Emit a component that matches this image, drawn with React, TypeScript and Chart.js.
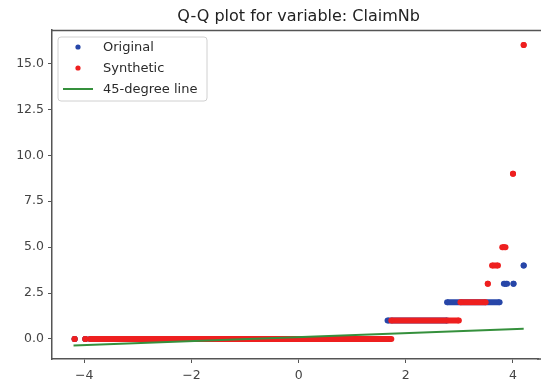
import React, { useEffect, useRef } from "react";
import { Chart, registerables } from "chart.js";

Chart.register(...registerables);

// ---- data ----
const titleText = "Q-Q plot for variable: ClaimNb";
const seriesNames = ["Original", "Synthetic", "45-degree line"];

// Original: runs of sorted sample values vs theoretical quantiles
const origLevels = [0, 0, 0, 1, 2, 3, 3, 4];
const origStart = [-4.18, -3.98, -3.89, 1.66, 2.77, 3.83, 4.01, 4.2];
const origEnd = [-4.18, -3.98, 1.66, 2.77, 3.75, 3.89, 4.01, 4.2];

// Synthetic
const synthLevels = [0, 0, 0, 1, 2, 3, 4, 5, 9, 16];
const synthStart = [-4.18, -3.98, -3.89, 1.73, 3.02, 3.53, 3.61, 3.8, 4.0, 4.2];
const synthEnd = [-4.18, -3.98, 1.73, 2.99, 3.49, 3.53, 3.72, 3.86, 4.0, 4.2];

// 45-degree reference line
const lineX = [-4.2, 4.2];
const lineY = [-0.36, 0.55];

const xTicks = [-4, -2, 0, 2, 4];
const yTicks = [0, 2.5, 5, 7.5, 10, 12.5, 15];

const BLUE = "#2746a8";
const RED = "#ee1f1f";
const GREEN = "#35903c";
const FONT = '"DejaVu Sans", sans-serif';

function runDatasets(levels: number[], starts: number[], ends: number[], color: string, order: number) {
  return levels.map((v, i) => ({
    type: "scatter" as const,
    data: [
      { x: starts[i], y: v },
      { x: ends[i], y: v },
    ],
    showLine: true,
    borderColor: color,
    backgroundColor: color,
    borderWidth: 6,
    borderCapStyle: "butt" as const,
    pointRadius: 3,
    pointBorderWidth: 0,
    pointHoverRadius: 3,
    order,
  }));
}

const decorPlugin = {
  id: "decor",
  afterDraw(chart: any) {
    const { ctx, chartArea, scales } = chart;
    ctx.save();
    // top spine and continuation of the bottom spine to the canvas edge
    ctx.strokeStyle = "#555";
    ctx.lineWidth = 1.5;
    ctx.beginPath();
    ctx.moveTo(chartArea.left, chartArea.top + 0.5);
    ctx.lineTo(chart.width, chartArea.top + 0.5);
    ctx.moveTo(chartArea.right - 1, chartArea.bottom);
    ctx.lineTo(chart.width, chartArea.bottom);
    ctx.stroke();

    // title
    ctx.fillStyle = "#222";
    ctx.font = `16px ${FONT}`;
    ctx.textAlign = "center";
    ctx.textBaseline = "alphabetic";
    ctx.fillText(titleText, scales.x.getPixelForValue(0), 21);

    // legend
    const bx = chartArea.left + 6;
    const by = chartArea.top + 7;
    const bw = 149;
    const bh = 64;
    ctx.fillStyle = "rgba(255,255,255,0.85)";
    ctx.strokeStyle = "#d0d0d0";
    ctx.lineWidth = 1;
    ctx.beginPath();
    const r = 3;
    ctx.moveTo(bx + r, by);
    ctx.lineTo(bx + bw - r, by);
    ctx.quadraticCurveTo(bx + bw, by, bx + bw, by + r);
    ctx.lineTo(bx + bw, by + bh - r);
    ctx.quadraticCurveTo(bx + bw, by + bh, bx + bw - r, by + bh);
    ctx.lineTo(bx + r, by + bh);
    ctx.quadraticCurveTo(bx, by + bh, bx, by + bh - r);
    ctx.lineTo(bx, by + r);
    ctx.quadraticCurveTo(bx, by, bx + r, by);
    ctx.closePath();
    ctx.fill();
    ctx.stroke();

    const rows = [by + 10, by + 31, by + 52];
    const mx = bx + 20;
    ctx.font = `13px ${FONT}`;
    ctx.textAlign = "left";
    ctx.textBaseline = "middle";
    const colors = [BLUE, RED];
    for (let i = 0; i < 2; i++) {
      ctx.fillStyle = colors[i];
      ctx.beginPath();
      ctx.arc(mx, rows[i], 2.6, 0, Math.PI * 2);
      ctx.fill();
    }
    ctx.strokeStyle = GREEN;
    ctx.lineWidth = 2;
    ctx.beginPath();
    ctx.moveTo(mx - 15, rows[2]);
    ctx.lineTo(mx + 15, rows[2]);
    ctx.stroke();
    ctx.fillStyle = "#2a2a2a";
    seriesNames.forEach((n, i) => ctx.fillText(n, bx + 45, rows[i] + 1));
    ctx.restore();
  },
};

export default function App() {
  const ref = useRef<HTMLCanvasElement | null>(null);
  useEffect(() => {
    if (!ref.current) return;
    const datasets: any[] = [
      {
        type: "scatter",
        data: lineX.map((x, i) => ({ x, y: lineY[i] })),
        showLine: true,
        borderColor: GREEN,
        borderWidth: 2,
        pointRadius: 0,
        order: 0,
      },
      ...runDatasets(synthLevels, synthStart, synthEnd, RED, 1),
      ...runDatasets(origLevels, origStart, origEnd, BLUE, 2),
    ];
    const chart = new Chart(ref.current, {
      type: "scatter",
      data: { datasets },
      options: {
        animation: false,
        responsive: false,
        devicePixelRatio: 1,
        events: [],
        layout: { padding: { top: 30, right: 0, left: 0, bottom: 0 } },
        plugins: { legend: { display: false }, tooltip: { enabled: false }, title: { display: false } },
        scales: {
          x: {
            type: "linear",
            min: -4.602,
            max: 4.467,
            afterBuildTicks: (s: any) => {
              s.ticks = xTicks.map((v) => ({ value: v }));
            },
            afterFit: (s: any) => {
              s.height = 26;
              s.paddingLeft = 0;
              s.paddingRight = 0;
            },
            grid: { display: true, drawOnChartArea: false, drawTicks: true, tickLength: 4, color: "#555" },
            border: { display: true, color: "#555", width: 1.5 },
            ticks: {
              color: "#444",
              font: { family: FONT, size: 12.5 },
              padding: 5,
              maxRotation: 0,
              callback: (v: any) => (Number(v) < 0 ? "\u2212" + Math.abs(Number(v)) : String(v)),
            },
          },
          y: {
            type: "linear",
            min: -1.09,
            max: 16.82,
            afterBuildTicks: (s: any) => {
              s.ticks = yTicks.map((v) => ({ value: v }));
            },
            afterFit: (s: any) => {
              s.width = 52;
              s.paddingTop = 0;
              s.paddingBottom = 0;
            },
            grid: { display: true, drawOnChartArea: false, drawTicks: true, tickLength: 4, color: "#555" },
            border: { display: true, color: "#555", width: 1.5 },
            ticks: {
              color: "#444",
              font: { family: FONT, size: 12.5 },
              padding: 4,
              callback: (v: any) => Number(v).toFixed(1),
            },
          },
        },
      },
      plugins: [decorPlugin],
    });
    return () => chart.destroy();
  }, []);
  return (
    <div style={{ position: "fixed", left: 0, top: 0, width: 541, height: 385, background: "#fff" }}>
      <canvas ref={ref} width={541} height={385} style={{ width: 541, height: 385, display: "block" }} />
    </div>
  );
}
